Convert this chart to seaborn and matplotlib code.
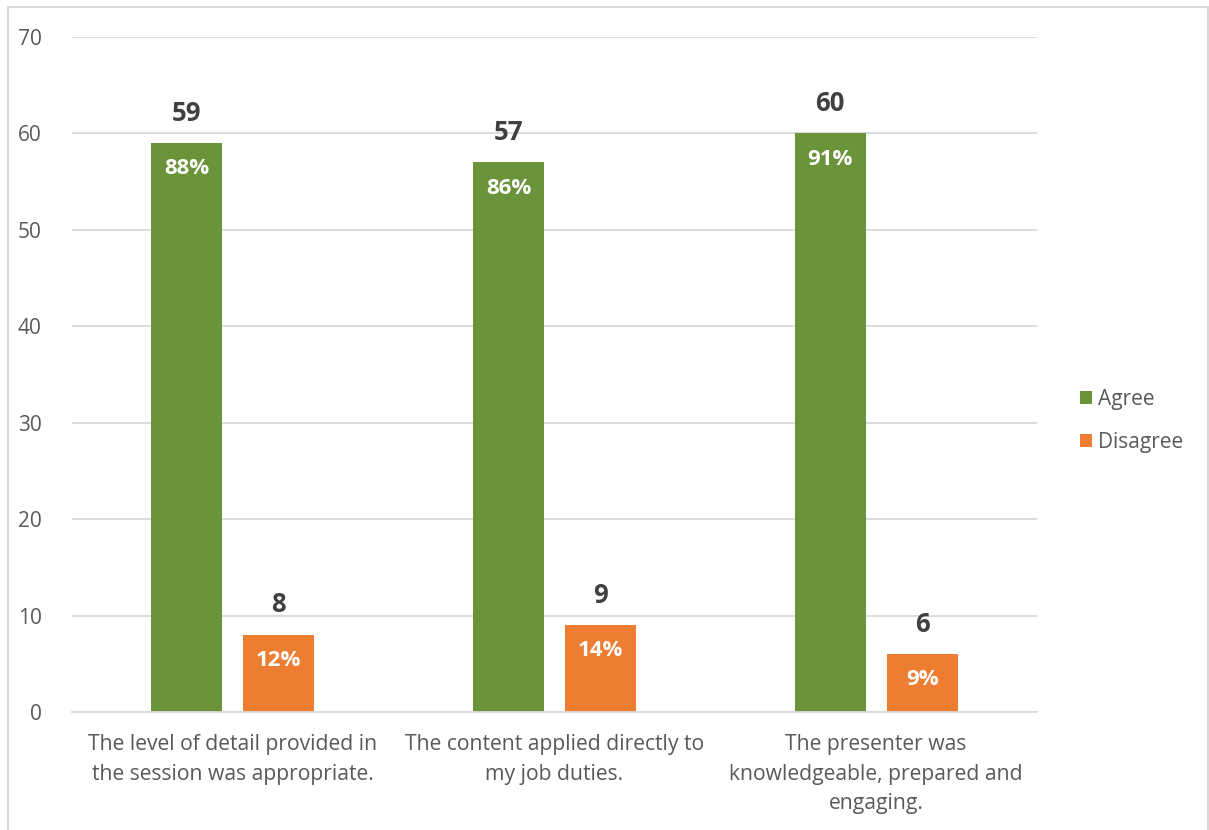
import matplotlib
matplotlib.use("Agg")
import matplotlib.pyplot as plt
from matplotlib.patches import Rectangle, Patch
import seaborn as sns
import pandas as pd

# Survey responses per statement
statements = [
    "The level of detail provided in\nthe session was appropriate.",
    "The content applied directly to\nmy job duties.",
    "The presenter was\nknowledgeable, prepared and\nengaging.",
]
agree = [59, 57, 60]
disagree = [8, 9, 6]
responses = ["Agree", "Disagree"]
y_ticks = [0, 10, 20, 30, 40, 50, 60, 70]

colors = {"Agree": "#6A933A", "Disagree": "#ED7D31"}
grid_gray = "#D9D9D9"
label_gray = "#595959"
value_gray = "#404040"

df = pd.DataFrame({
    "Statement": statements * 2,
    "Response": ["Agree"] * 3 + ["Disagree"] * 3,
    "Count": agree + disagree,
})
totals = {s: a + d for s, a, d in zip(statements, agree, disagree)}

sns.set_style("white")
plt.rcParams["font.family"] = ["Open Sans", "DejaVu Sans"]

W, H = 1209, 830
fig = plt.figure(figsize=(W / 100, H / 100), dpi=100)
ax = fig.add_axes([72 / W, 1 - 712 / H, (1037 - 72) / W, (712 - 37) / H])

sns.barplot(data=df, x="Statement", y="Count", hue="Response",
            order=statements, hue_order=responses, palette=colors,
            width=0.572, gap=0.23, saturation=1, legend=False, ax=ax,
            edgecolor="none", linewidth=0)

ax.set_ylim(0, 70)
ax.set_xlim(-0.5, 2.5)
ax.set_yticks(y_ticks)
ax.yaxis.grid(True, color=grid_gray, linewidth=1.3)
ax.set_axisbelow(True)
for side in ["top", "right", "left"]:
    ax.spines[side].set_visible(False)
ax.spines["bottom"].set_color(grid_gray)
ax.spines["bottom"].set_linewidth(1.3)
ax.tick_params(axis="y", length=0, labelcolor=label_gray, labelsize=15, pad=22)
ax.tick_params(axis="x", length=0, labelcolor=label_gray, labelsize=15.2, pad=16)
ax.set_xlabel("")
ax.set_ylabel("")
for lbl in ax.get_xticklabels():
    lbl.set_multialignment("center")
    lbl.set_linespacing(1.52)

# Count above each bar, share of responses inside it
for container, resp in zip(ax.containers, responses):
    for bar, stmt in zip(container, statements):
        val = bar.get_height()
        cx = bar.get_x() + bar.get_width() / 2
        ax.annotate(f"{val:.0f}", (cx, val), xytext=(0, 21.5), textcoords="offset points",
                    ha="center", va="center", fontsize=18.5, fontweight="bold",
                    color=value_gray)
        pct = round(100 * val / totals[stmt])
        ax.annotate(f"{pct}%", (cx, val), xytext=(0, -18.5), textcoords="offset points",
                    ha="center", va="center", fontsize=16, fontweight="bold",
                    color="white")

handles = [Patch(facecolor=colors[r], edgecolor="none") for r in responses]
fig.legend(handles, responses, loc="center left",
           bbox_to_anchor=(1061 / W, 1 - 421 / H), frameon=False,
           fontsize=15, labelcolor=label_gray, handlelength=0.6,
           handleheight=0.6, handletextpad=0.3, labelspacing=1.06)

# Chart frame
fig.patches.append(Rectangle((7.5 / W, -0.05), (1208 - 7.5) / W, 1 - 7.5 / H + 0.05,
                             transform=fig.transFigure, fill=False,
                             edgecolor=grid_gray, linewidth=1.5))

fig.savefig("out.png", dpi=100)
